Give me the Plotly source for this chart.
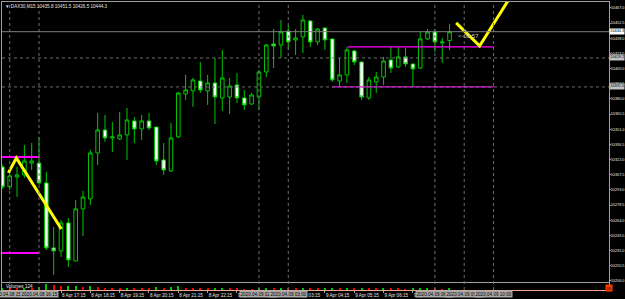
import plotly.graph_objects as go

# ---------------- data ----------------
opens = [10315.0, 10295.9, 10305.4, 10307.4, 10318.8, 10318.8, 10299.7, 10237.6, 10234.7, 10261.5,
         10225.1, 10274.9, 10284.4, 10328.4, 10350.4, 10342.7, 10341.8, 10345.6, 10359.0, 10351.3,
         10359.0, 10353.2, 10321.7, 10311.2, 10343.7, 10384.8, 10387.7, 10397.2, 10387.7, 10395.3,
         10381.0, 10381.9, 10393.4, 10381.0, 10375.2, 10381.9, 10405.8, 10432.6, 10431.6, 10445.0,
         10436.4, 10439.3, 10454.6, 10434.5, 10447.9, 10437.4, 10397.2, 10403.0, 10425.9, 10415.4,
         10381.0, 10396.3, 10401.0, 10417.3, 10410.6, 10420.2, 10413.5, 10409.6, 10437.4, 10444.1,
         10433.5, 10435.8]
highs = [10316.9, 10310.2, 10315.0, 10336.0, 10337.9, 10343.7, 10310.2, 10257.6, 10264.3, 10266.2,
         10283.5, 10292.1, 10331.3, 10366.6, 10364.7, 10358.0, 10367.6, 10371.4, 10362.8, 10364.7,
         10366.6, 10353.2, 10337.9, 10357.1, 10386.7, 10403.0, 10400.1, 10415.4, 10403.0, 10419.2,
         10426.9, 10400.1, 10404.9, 10388.6, 10385.7, 10407.7, 10432.6, 10446.9, 10455.5, 10450.8,
         10446.9, 10460.3, 10455.5, 10447.9, 10447.9, 10437.4, 10419.2, 10429.7, 10426.9, 10415.4,
         10401.0, 10405.8, 10420.2, 10429.7, 10429.7, 10428.8, 10413.5, 10444.1, 10446.9, 10446.9,
         10438.3, 10451.5]
lows = [10294.0, 10293.0, 10286.3, 10304.5, 10312.1, 10297.8, 10235.7, 10211.8, 10229.0, 10219.4,
        10225.1, 10249.0, 10278.7, 10316.9, 10338.9, 10329.3, 10340.8, 10321.7, 10337.9, 10340.8,
        10350.4, 10316.9, 10307.4, 10310.2, 10342.7, 10379.1, 10372.4, 10385.7, 10374.3, 10356.1,
        10368.5, 10365.7, 10376.2, 10369.5, 10374.3, 10369.5, 10401.0, 10409.6, 10419.2, 10426.9,
        10422.1, 10424.0, 10429.7, 10431.6, 10426.9, 10396.3, 10391.5, 10395.3, 10412.5, 10379.1,
        10379.1, 10385.7, 10393.4, 10404.9, 10409.6, 10410.6, 10391.5, 10408.7, 10436.4, 10424.9,
        10414.4, 10426.5]
closes = [10295.9, 10306.4, 10307.4, 10320.7, 10320.7, 10299.7, 10237.6, 10234.7, 10261.5, 10226.1,
          10274.9, 10286.3, 10328.4, 10350.4, 10342.7, 10343.7, 10345.6, 10359.9, 10351.3, 10359.0,
          10352.3, 10320.7, 10312.1, 10342.7, 10385.7, 10388.6, 10398.2, 10388.6, 10395.3, 10381.9,
          10400.1, 10392.4, 10381.0, 10374.3, 10383.8, 10405.8, 10431.6, 10430.7, 10444.1, 10434.5,
          10438.3, 10455.5, 10434.5, 10446.9, 10436.4, 10398.2, 10403.0, 10426.9, 10415.4, 10381.9,
          10398.2, 10401.0, 10416.3, 10409.6, 10420.2, 10413.5, 10408.7, 10437.4, 10444.1, 10434.5,
          10434.5, 10444.3]
volumes = [210, 180, 150, 260, 190, 320, 640, 480, 380, 420, 450, 300, 380, 360, 260, 220, 200, 260,
           180, 170, 160, 340, 240, 300, 380, 260, 220, 200, 170, 210, 260, 150, 140, 90, 80, 110,
           200, 170, 220, 180, 140, 190, 170, 130, 150, 260, 170, 200, 150, 230, 170, 120, 150, 140,
           110, 100, 120, 150, 180, 110, 100, 124]
bar_index = list(range(len(opens)))

price_ticks = [10206.0, 10220.5, 10235.0, 10249.5, 10264.0, 10278.5, 10293.0, 10307.5, 10322.0,
               10336.5, 10351.0, 10365.5, 10380.0, 10394.5, 10409.0, 10423.5, 10438.0, 10452.5,
               10467.0]
time_tick_idx = [8, 12, 16, 20, 24, 28, 32, 40, 44, 48, 52, 56]
time_tick_text = ["8 Apr 17:15", "8 Apr 18:15", "8 Apr 19:15", "8 Apr 20:15", "8 Apr 21:15",
                  "8 Apr 22:15", "9 Apr 01:15", "9 Apr 03:15", "9 Apr 04:15",
                  "9 Apr 05:15", "9 Apr 06:15", "9 Apr 07:15"]

vline_idx = [1, 5, 35, 39, 59, 63, 67]
vline_text = ["2020.04.08 15:15", "2020.04.08 16:15", "2020.04.09 02:00", "2020.04.09 03:00",
              "2020.04.09 08:00", "2020.04.09 09:00", "2020.04.09 10:00"]

bid_price = 10444.3
hline_prices = [10419.2, 10391.5]

magenta_left_x = [-0.05, 5]
magenta_left_levels = [10324.6, 10232.8]
magenta_right_x = [[47.1, 67], [45, 67]]
magenta_right_levels = [10429.7, 10391.5]

yellow_left_x = [0.82, 1.91, 8.05]
yellow_left_y = [10309.3, 10323.6, 10255.7]
yellow_right_x = [61.9, 65.1, 69.9]
yellow_right_y = [10452.7, 10430.7, 10484.2]

timer_text = "<-08:57"

# ---------------- styling ----------------
GREEN = "#00c800"
FONT = "Liberation Sans"
TXT = "#e6e6e6"
FRAME = "#a0a0a0"
FS = 4.6
FSY = 3.8

fig = go.Figure()

fig.add_trace(go.Candlestick(
    x=bar_index, open=opens, high=highs, low=lows, close=closes,
    xaxis="x2", yaxis="y",
    increasing=dict(line=dict(color=GREEN, width=1), fillcolor="#000000"),
    decreasing=dict(line=dict(color=GREEN, width=1), fillcolor="#ffffff"),
    whiskerwidth=0, showlegend=False, hoverinfo="skip"))

vol_colors = [GREEN] + ["#00c800" if volumes[i] >= volumes[i - 1] else "#ff0000"
                        for i in range(1, len(volumes))]
fig.add_trace(go.Bar(x=bar_index, y=volumes, marker=dict(color=vol_colors, line=dict(width=0)),
                     width=0.16, xaxis="x", yaxis="y2", showlegend=False, hoverinfo="skip"))

for lvl in magenta_left_levels:
    fig.add_trace(go.Scatter(x=magenta_left_x, y=[lvl, lvl], mode="lines",
                             line=dict(color="#ff00ff", width=2), xaxis="x2", yaxis="y",
                             showlegend=False, hoverinfo="skip"))
for xs, lvl in zip(magenta_right_x, magenta_right_levels):
    fig.add_trace(go.Scatter(x=xs, y=[lvl, lvl], mode="lines",
                             line=dict(color="#ff00ff", width=1.3), xaxis="x2", yaxis="y",
                             showlegend=False, hoverinfo="skip"))

for xs, ys in [(yellow_left_x, yellow_left_y), (yellow_right_x, yellow_right_y)]:
    fig.add_trace(go.Scatter(x=xs, y=ys, mode="lines", line=dict(color="#ffff00", width=3),
                             xaxis="x2", yaxis="y", showlegend=False, hoverinfo="skip"))

shapes = []
for i in vline_idx:
    shapes.append(dict(type="line", xref="x", yref="paper", x0=i, x1=i, y0=0, y1=1,
                       line=dict(color="#6e6e6e", width=1, dash="dot")))
shapes.append(dict(type="line", xref="paper", yref="y", x0=0, x1=1, y0=bid_price, y1=bid_price,
                   line=dict(color="#808080", width=1)))
for p in hline_prices:
    shapes.append(dict(type="line", xref="paper", yref="y", x0=0, x1=1, y0=p, y1=p,
                       line=dict(color="#6e6e6e", width=1, dash="dot")))

annotations = []
annotations.append(dict(
    text="▼ DAX30,M15 %.1f %.1f %.1f %.1f" % (opens[-1], highs[-1], lows[-1], closes[-1]),
    xref="paper", yref="paper", x=0.002, y=1.0, xanchor="left", yanchor="top",
    showarrow=False, font=dict(family=FONT, size=FS, color=TXT)))
annotations.append(dict(text="Volumes %d" % volumes[-1], xref="paper", yref="paper",
                        x=0.003, y=0.012, xanchor="left", yanchor="middle", showarrow=False,
                        font=dict(family=FONT, size=FS, color=TXT)))
for i, t in zip(vline_idx, vline_text):
    annotations.append(dict(text=t, xref="x", yref="paper", x=i, y=-0.0145,
                            xanchor="center", yanchor="middle", showarrow=False,
                            bgcolor="#a8a8a8", borderpad=0.5,
                            font=dict(family=FONT, size=FS, color="#000000")))
annotations.append(dict(text="%.1f" % bid_price, xref="paper", yref="y", x=1, y=bid_price,
                        xanchor="left", yanchor="middle", showarrow=False, bgcolor="#ffffff",
                        borderpad=0.3, font=dict(family=FONT, size=FSY, color="#000000")))
for p in hline_prices:
    annotations.append(dict(text="%.1f" % p, xref="paper", yref="y", x=1, y=p,
                            xanchor="left", yanchor="middle", showarrow=False, bgcolor="#c0c0c0",
                            borderpad=0.3, font=dict(family=FONT, size=FSY, color="#000000")))
annotations.append(dict(text=timer_text, xref="x2", yref="y", x=61.9, y=10440.2,
                        xanchor="left", yanchor="middle", showarrow=False,
                        font=dict(family=FONT, size=6, color="#c8c8c8")))
annotations.append(dict(text="88", xref="paper", yref="paper", x=1, y=0.008,
                        xanchor="center", yanchor="middle", showarrow=False, bgcolor="#ff3c00",
                        borderpad=0.5, font=dict(family=FONT, size=4, color="#400000")))

x_range = [-0.05, 82.75]
fig.update_layout(
    width=625, height=299, margin=dict(l=2, r=16, t=2, b=9, autoexpand=False),
    paper_bgcolor="#000000", plot_bgcolor="#000000",
    showlegend=False, bargap=0,
    font=dict(family=FONT, size=FS, color=TXT),
    xaxis=dict(domain=[0, 1], anchor="y2", range=x_range, tickvals=time_tick_idx,
               ticktext=time_tick_text, ticks="outside", ticklen=2, tickcolor=FRAME,
               tickangle=0, automargin=False,
               tickfont=dict(family=FONT, size=FS, color=TXT), ticklabelposition="outside right",
               showgrid=False, zeroline=False, showline=True, linecolor="#f0a888", linewidth=1,
               rangeslider=dict(visible=False), fixedrange=True),
    xaxis2=dict(domain=[0, 1], anchor="y", matches="x", range=x_range, showticklabels=False,
                ticks="", showgrid=False, zeroline=False, showline=True, mirror=True,
                automargin=False,
                linecolor=FRAME, linewidth=1, rangeslider=dict(visible=False)),
    yaxis=dict(domain=[0.0278, 1], anchor="x2", side="right", range=[10205.0, 10472.7],
               tickvals=price_ticks, tickformat=".1f", ticks="outside", ticklen=1,
               ticklabelstandoff=-1, automargin=False,
               tickcolor=FRAME, tickfont=dict(family=FONT, size=FSY, color=TXT),
               showgrid=False, zeroline=False, showline=True, mirror=True, linecolor=FRAME,
               linewidth=1),
    yaxis2=dict(domain=[0, 0.0243], anchor="x", side="right", range=[0, max(volumes) * 1.15],
                showticklabels=False, ticks="", showgrid=False, zeroline=False, showline=True,
                automargin=False,
                mirror=True, linecolor=FRAME, linewidth=1),
    shapes=shapes, annotations=annotations,
)

fig.write_html("out.html")
